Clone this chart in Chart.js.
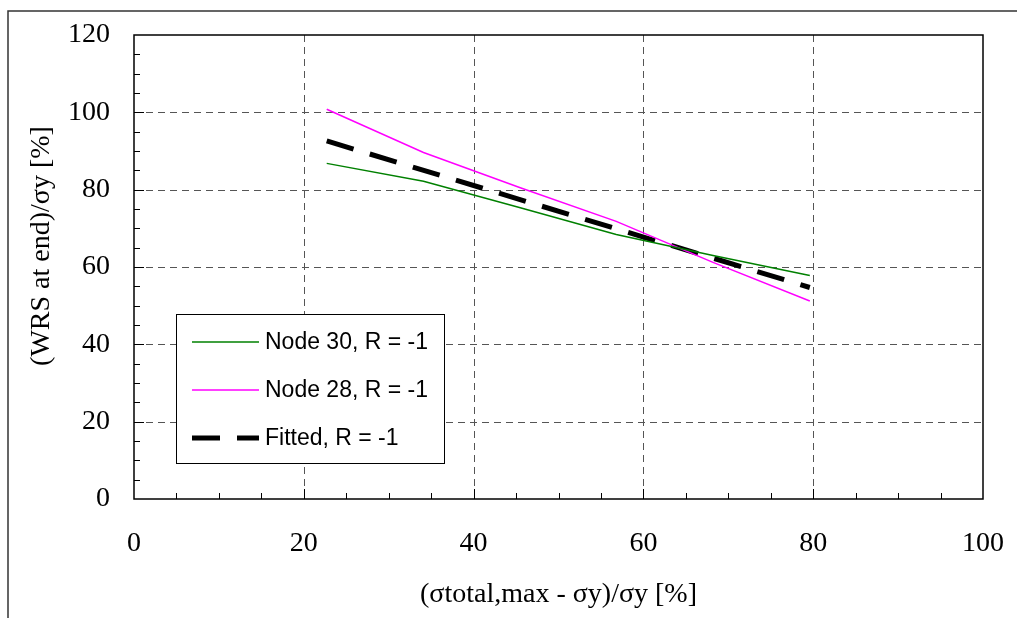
<!DOCTYPE html>
<html>
<head>
<meta charset="utf-8">
<script src="https://cdn.jsdelivr.net/npm/chart.js@4.4.0/dist/chart.umd.min.js"></script>
<style>
  html, body { margin: 0; padding: 0; background: #fff; }
  #wrap { width: 1017px; height: 618px; position: relative; }
</style>
</head>
<body>
<div id="wrap"><canvas id="myChart" width="1017" height="618"></canvas></div>
<script>
// data
const xStress = [22.7, 34.1, 45.5, 56.8, 68.2, 79.6];
const node30 = [86.8, 82.2, 75.3, 68.4, 63.0, 57.8];
const node28 = [100.8, 89.6, 80.5, 71.8, 61.2, 51.2];
const fittedX = [22.7, 79.6];
const fittedY = [92.6, 54.7];
const seriesNames = ['Node 30, R = -1', 'Node 28, R = -1', 'Fitted, R = -1'];
const xTicks = [0, 20, 40, 60, 80, 100];
const yTicks = [0, 20, 40, 60, 80, 100, 120];

function pts(xs, ys) {
  return xs.map((x, i) => ({ x: x, y: ys[i] }));
}

const serif = '"Liberation Serif", "Times New Roman", serif';
const sans = '"Liberation Sans", Arial, sans-serif';

// grid, minor ticks, frame, axis titles and legend
const decor = {
  id: 'decor',
  beforeDatasetsDraw(chart) {
    const ctx = chart.ctx, a = chart.chartArea;
    const xs = chart.scales.x, ys = chart.scales.y;
    ctx.save();
    ctx.strokeStyle = '#555';
    ctx.lineWidth = 1;
    ctx.setLineDash([7, 5]);
    xTicks.slice(1, -1).forEach(v => {
      const px = Math.round(xs.getPixelForValue(v)) + 0.5;
      ctx.beginPath(); ctx.moveTo(px, a.top); ctx.lineTo(px, a.bottom); ctx.stroke();
    });
    yTicks.slice(1, -1).forEach(v => {
      const py = Math.round(ys.getPixelForValue(v)) + 0.5;
      ctx.beginPath(); ctx.moveTo(a.left, py); ctx.lineTo(a.right, py); ctx.stroke();
    });
    ctx.setLineDash([]);
    // inward ticks every 5
    ctx.strokeStyle = '#000';
    for (let v = 5; v < 100; v += 5) {
      const px = Math.round(xs.getPixelForValue(v)) + 0.5;
      const len = v % 20 === 0 ? 10 : 6;
      ctx.beginPath(); ctx.moveTo(px, a.bottom); ctx.lineTo(px, a.bottom - len); ctx.stroke();
    }
    for (let v = 5; v < 120; v += 5) {
      const py = Math.round(ys.getPixelForValue(v)) + 0.5;
      const len = v % 20 === 0 ? 10 : 6;
      ctx.beginPath(); ctx.moveTo(a.left, py); ctx.lineTo(a.left + len, py); ctx.stroke();
    }
    // plot border
    ctx.lineWidth = 1.5;
    ctx.strokeRect(a.left, a.top, a.right - a.left, a.bottom - a.top);
    // outer frame (only top and left visible)
    ctx.strokeStyle = '#333';
    ctx.beginPath(); ctx.moveTo(8, 618); ctx.lineTo(8, 11); ctx.lineTo(1017, 11); ctx.stroke();
    // axis titles
    ctx.fillStyle = '#000';
    ctx.font = '28px ' + serif;
    ctx.textAlign = 'center';
    ctx.textBaseline = 'middle';
    ctx.fillText('(σtotal,max - σy)/σy [%]', (a.left + a.right) / 2, 595);
    ctx.translate(42, 246);
    ctx.rotate(-Math.PI / 2);
    ctx.fillText('(WRS at end)/σy [%]', 0, 0);
    ctx.restore();
  },
  afterDatasetsDraw(chart) {
    const ctx = chart.ctx;
    ctx.save();
    ctx.fillStyle = '#fff';
    ctx.fillRect(176, 314, 268, 149);
    ctx.strokeStyle = '#000';
    ctx.lineWidth = 1;
    ctx.strokeRect(176.5, 314.5, 268, 149);
    const rows = [342, 390, 438];
    chart.data.datasets.forEach((ds, i) => {
      ctx.strokeStyle = ds.borderColor;
      ctx.lineWidth = ds.borderWidth;
      ctx.setLineDash(ds.borderDash || []);
      ctx.beginPath(); ctx.moveTo(192, rows[i]); ctx.lineTo(259, rows[i]); ctx.stroke();
      ctx.setLineDash([]);
      ctx.fillStyle = '#000';
      ctx.font = '23px ' + sans;
      ctx.textAlign = 'left';
      ctx.textBaseline = 'middle';
      ctx.fillText(ds.label, 265, rows[i] + 1);
    });
    ctx.restore();
  }
};

const myChart = new Chart(document.getElementById('myChart').getContext('2d'), {
  type: 'scatter',
  data: {
    datasets: [
      { label: seriesNames[0], data: pts(xStress, node30), borderColor: '#008000', borderWidth: 1.5, showLine: true, pointRadius: 0 },
      { label: seriesNames[1], data: pts(xStress, node28), borderColor: '#ff00ff', borderWidth: 1.5, showLine: true, pointRadius: 0 },
      { label: seriesNames[2], data: pts(fittedX, fittedY), borderColor: '#000', borderWidth: 5, borderDash: [28, 17], showLine: true, pointRadius: 0 }
    ]
  },
  options: {
    responsive: false,
    animation: false,
    layout: { padding: { top: 35, right: 34, left: 0, bottom: 0 } },
    plugins: { legend: { display: false }, tooltip: { enabled: false } },
    scales: {
      x: {
        type: 'linear', min: 0, max: 100,
        afterBuildTicks: s => { s.ticks = xTicks.map(v => ({ value: v })); },
        afterFit: s => { s.height = 119; s.paddingLeft = 0; s.paddingRight = 0; },
        grid: { display: false, drawTicks: false },
        border: { display: false },
        ticks: { color: '#000', font: { family: serif, size: 28 }, padding: 28, maxRotation: 0 }
      },
      y: {
        type: 'linear', min: 0, max: 120,
        afterBuildTicks: s => { s.ticks = yTicks.map(v => ({ value: v })); },
        afterFit: s => { s.width = 134; s.paddingTop = 0; s.paddingBottom = 0; },
        grid: { display: false, drawTicks: false },
        border: { display: false },
        ticks: { color: '#000', font: { family: serif, size: 28 }, padding: 24 }
      }
    }
  },
  plugins: [decor]
});
</script>
</body>
</html>
